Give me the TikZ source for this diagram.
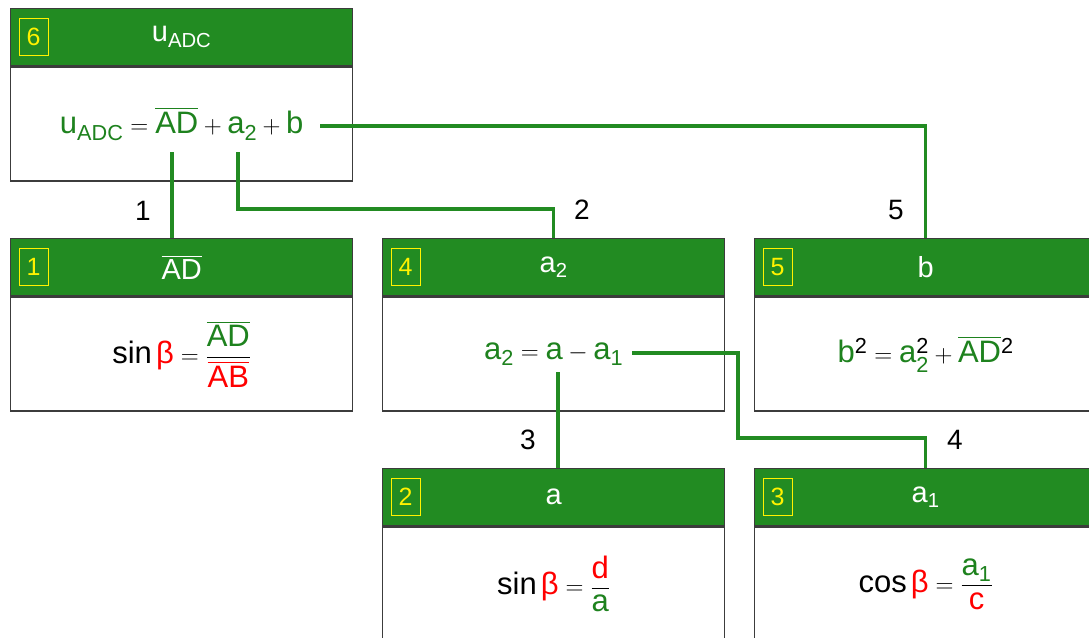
\documentclass[tikz,border=0pt]{standalone}
\usepackage{fontspec}
\usepackage{amsmath}
\setmainfont{Liberation Sans}
\usetikzlibrary{calc}
\definecolor{hgreen}{RGB}{34,139,34}
\definecolor{tgreen}{RGB}{30,130,30}
\definecolor{tred}{RGB}{255,0,0}
\definecolor{bord}{RGB}{60,60,60}
\newcommand{\G}[1]{\textcolor{tgreen}{#1}}
\newcommand{\R}[1]{\textcolor{tred}{#1}}
\tikzset{
  hdr/.style={draw=bord, fill=hgreen, line width=1.3pt, minimum width=342pt, minimum height=57pt, anchor=north west, inner sep=0pt, text=white, font=\fontsize{29}{34}\selectfont},
  bdy/.style={draw=bord, fill=white, line width=1.3pt, minimum width=342pt, minimum height=114pt, anchor=north, inner sep=0pt, font=\fontsize{31}{36}\selectfont},
  numbox/.style={draw=yellow, line width=1pt, text=yellow, minimum width=29pt, minimum height=37pt, inner sep=0pt, font=\fontsize{25}{28}\selectfont},
  conn/.style={draw=hgreen, line width=3.5pt},
  lbl/.style={text=black}
}
\begin{document}
\begin{tikzpicture}[x=1pt,y=-1pt, font=\fontsize{28}{34}\selectfont]
\useasboundingbox (0,0) rectangle (1089,637);
\clip (0,0) rectangle (1089,637);
% box 6
\node[hdr] (h6) at (10,8) {$\text{u}_{\text{ADC}}$};
\node[numbox] (n6) at ($(h6.west)+(23.5,0)$) {6};
\node[bdy] (b6) at (h6.south) {$\G{\text{u}_{\text{ADC}}} = \G{\overline{\text{AD}}} + \G{\text{a}_{\text{2}}} + \G{\text{b}}$};
% box 1
\node[hdr] (h1) at (10,238) {$\overline{\text{AD}}$};
\node[numbox] (n1) at ($(h1.west)+(23.5,0)$) {1};
\node[bdy] (b1) at (h1.south) {$\text{sin}\,\R{\text{β}} = \dfrac{\G{\overline{\text{AD}}}}{\R{\overline{\text{AB}}}}$};
% box 4
\node[hdr] (h4) at (382,238) {$\text{a}_{\text{2}}$};
\node[numbox] (n4) at ($(h4.west)+(23.5,0)$) {4};
\node[bdy] (b4) at (h4.south) {$\G{\text{a}_{\text{2}}} = \G{\text{a}} - \G{\text{a}_{\text{1}}}$};
% box 5
\node[hdr] (h5) at (754,238) {b};
\node[numbox] (n5) at ($(h5.west)+(23.5,0)$) {5};
\node[bdy] (b5) at (h5.south) {$\G{\text{b}}^{\text{2}} = \G{\text{a}}^{\text{2}}_{\G{\text{2}}} + \G{\overline{\text{AD}}}^{\text{2}}$};
% box 2
\node[hdr] (h2) at (382,468) {a};
\node[numbox] (n2) at ($(h2.west)+(23.5,0)$) {2};
\node[bdy] (b2) at (h2.south) {$\text{sin}\,\R{\text{β}} = \dfrac{\R{\text{d}}}{\G{\text{a}}}$};
% box 3
\node[hdr] (h3) at (754,468) {$\text{a}_{\text{1}}$};
\node[numbox] (n3) at ($(h3.west)+(23.5,0)$) {3};
\node[bdy] (b3) at (h3.south) {$\text{cos}\,\R{\text{β}} = \dfrac{\G{\text{a}_{\text{1}}}}{\R{\text{c}}}$};
% connectors
\coordinate (p1) at (172,152);
\coordinate (p2) at (238,152);
\coordinate (p5) at (320,126);
\coordinate (p3) at (558,372);
\coordinate (p4) at (632,353);
\draw[conn] (p1) -- (p1 |- h1.north);
\draw[conn] (p2) -- ++(0,57) -| (h4.north);
\draw[conn] (p5) -| (h5.north);
\draw[conn] (p3) -- (p3 |- h2.north);
\draw[conn] (p4) -- ++(106,0) -- ++(0,85) -| (h3.north);
% labels
\node[lbl] (l1) at (143,211) {1};
\node[lbl] (l2) at (582,210) {2};
\node[lbl] (l5) at (896,210) {5};
\node[lbl] (l3) at (528,440) {3};
\node[lbl] (l4) at (955,440) {4};
\end{tikzpicture}
\end{document}
